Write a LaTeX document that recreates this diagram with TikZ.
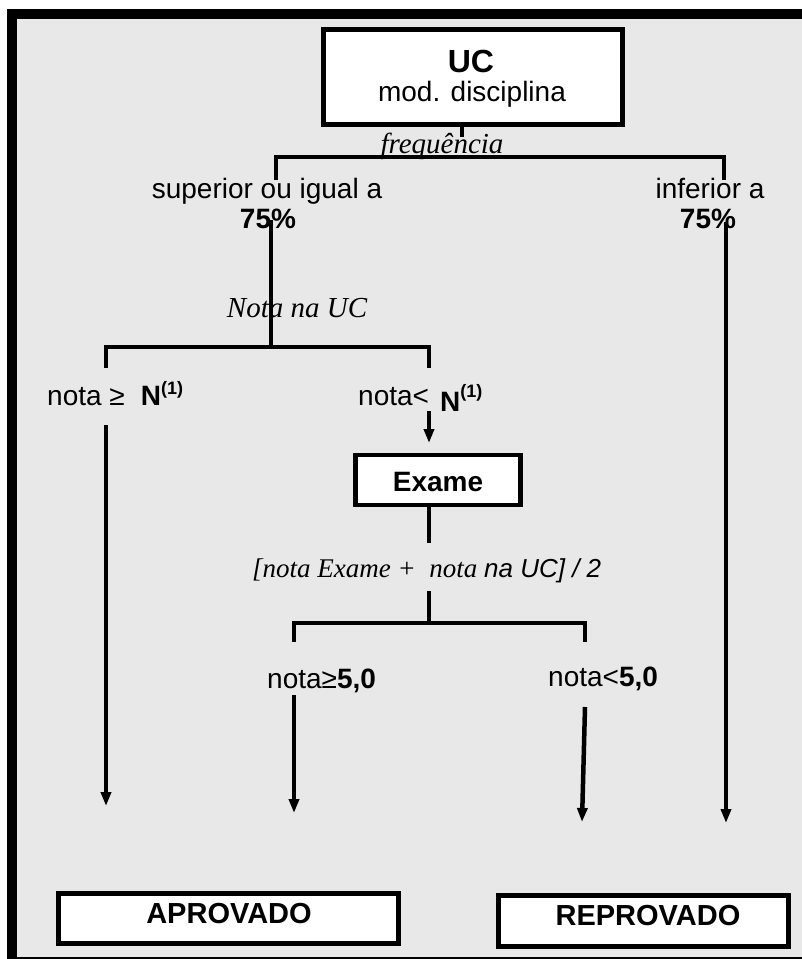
\documentclass[tikz,border=0pt]{standalone}
\usepackage{fontspec}
\setmainfont{Liberation Sans}
\newfontfamily\tms{Liberation Serif}
\usetikzlibrary{arrows.meta}
\definecolor{bg}{RGB}{232,232,232}
\tikzset{
  ln/.style={line width=4.5pt},
  arr/.style={line width=4.5pt, -{Triangle[length=14pt,width=10pt]}},
  box/.style={draw, line width=4.5pt, fill=white, inner sep=0pt},
  lbl/.style={anchor=base, inner sep=0pt, font=\fontsize{28}{30}\selectfont},
  lblw/.style={anchor=base west, inner sep=0pt, font=\fontsize{28}{30}\selectfont},
  itl/.style={anchor=base, inner sep=0pt, font=\tms\itshape\fontsize{29}{30}\selectfont},
}
\begin{document}
\begin{tikzpicture}[x=1pt,y=-1pt]
\useasboundingbox (0,0) rectangle (802,959);
\begin{scope}
  \clip (0,0) rectangle (802,959);
  \fill[white] (0,0) rectangle (802,959);
  \fill[black] (7,9) rectangle (840,1000);
  \fill[bg] (17,19) rectangle (840,957);
\end{scope}

% boxes
\node[box, minimum width=299pt, minimum height=95pt] (uc) at (473,77) {};
\node[lbl, font=\bfseries\fontsize{32}{34}\selectfont] (uct) at (471,72) {UC};
\node[lbl] (ucm) at (472,101) {mod. disciplina};

\node[box, minimum width=165pt, minimum height=50pt] (ex) at (438,480) {};
\node[lbl, font=\bfseries\fontsize{28}{30}\selectfont] (ext) at (438,491) {Exame};

\node[box, minimum width=340pt, minimum height=50pt] (ap) at (228.5,918.5) {};
\node[lbl, font=\bfseries\fontsize{29}{30}\selectfont] (apt) at (229,923) {APROVADO};

\node[box, minimum width=290pt, minimum height=51pt] (rp) at (643.5,921) {};
\node[lbl, font=\bfseries\fontsize{29}{30}\selectfont] (rpt) at (648,925) {REPROVADO};

% labels
\node[itl] (freq) at (442,153) {frequência};
\node[lbl] (sup) at (267,198) {superior ou igual a};
\node[lbl, font=\bfseries\fontsize{28}{30}\selectfont] (sup75) at (268,228) {75\%};
\node[lbl] (inf) at (710,198) {inferior a};
\node[lbl, font=\bfseries\fontsize{28}{30}\selectfont] (inf75) at (708,228) {75\%};
\node[itl] (nota) at (297,317) {Nota na UC};
\node[lblw] (nge) at (47,405) {nota ≥\hspace{16pt}\textbf{N}\raisebox{11pt}{\bfseries\fontsize{18}{18}\selectfont(1)}};
\node[lblw] (nlt) at (358,405) {nota<\hspace{11pt}\raisebox{-6pt}{\textbf{N}}\raisebox{8pt}{\bfseries\fontsize{18}{18}\selectfont(1)}};
\node[anchor=base west, inner sep=0pt] (form) at (252,577)
  {{\tms\itshape\fontsize{27}{30}\selectfont [nota Exame +\ \ nota\ }{\itshape\fontsize{26}{30}\selectfont na UC] / 2}};
\node[lblw] (nge5) at (267,688) {nota≥\textbf{5,0}};
\node[lblw] (nlt5) at (548,686) {nota<\textbf{5,0}};

% coordinates
\coordinate (f1) at (462,137);
\coordinate (b1l) at (276,180);
\coordinate (b1r) at (724,180);
\coordinate (v1a) at (271,220);
\coordinate (v1b) at (271,347);
\coordinate (b2l) at (106,368);
\coordinate (b2r) at (429,368);
\coordinate (a1s) at (106,425);
\coordinate (a1e) at (106,806);
\coordinate (a2s) at (429,411);
\coordinate (a2e) at (429,443);
\coordinate (e1) at (429,543);
\coordinate (e2) at (429,591);
\coordinate (e3) at (429,623);
\coordinate (b3l) at (294,642);
\coordinate (b3r) at (585,642);
\coordinate (a3s) at (294,695);
\coordinate (a3e) at (294,813);
\coordinate (a4s) at (585,707);
\coordinate (a4e) at (582,822);
\coordinate (a5s) at (726,222);
\coordinate (a5e) at (726,823);

% connectors
\draw[ln] (uc.south -| f1) -- (f1);
\draw[ln] (b1l) -- (b1l |- 0,157) -- (b1r |- 0,157) -- (b1r);
\draw[ln] (v1a) -- (v1b);
\draw[ln] (b2l) -- (b2l |- v1b) -- (b2r |- v1b) -- (b2r);
\draw[arr] (a1s) -- (a1e);
\draw[arr] (a2s) -- (a2e);
\draw[ln] (ex.south -| e1) -- (e1);
\draw[ln] (e2) -- (e3);
\draw[ln] (b3l) -- (b3l |- e3) -- (b3r |- e3) -- (b3r);
\draw[arr] (a3s) -- (a3e);
\draw[arr] (a4s) -- (a4e);
\draw[arr] (a5s) -- (a5e);
\end{tikzpicture}
\end{document}
